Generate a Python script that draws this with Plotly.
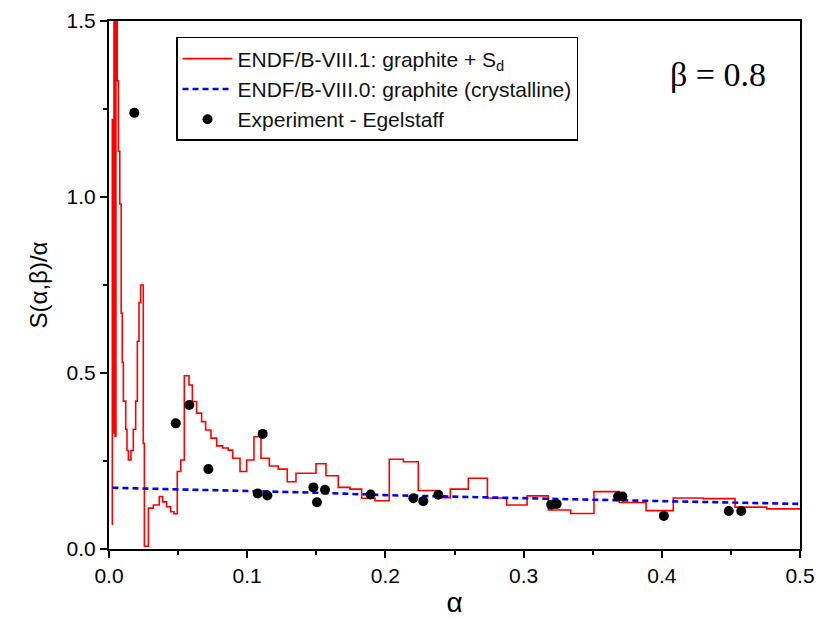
import plotly.graph_objects as go

# ENDF/B-VIII.1 graphite + S_d : histogram (step) values, left bin edges
alpha_sd = [0.0020, 0.0024, 0.0031, 0.0036, 0.0044, 0.0050, 0.0060, 0.0068, 0.0078,
            0.0088, 0.0096, 0.0104, 0.0121, 0.0130, 0.0140, 0.0159, 0.0176, 0.0193,
            0.0205, 0.0217, 0.0229, 0.0248, 0.0256, 0.0285, 0.0321, 0.0364, 0.0388,
            0.0417, 0.0446, 0.0470, 0.0494, 0.0519, 0.0545, 0.0579, 0.0603, 0.0634,
            0.0670, 0.0699, 0.0738, 0.0779, 0.0822, 0.0863, 0.0895, 0.0948, 0.0996,
            0.1049, 0.1100, 0.1160, 0.1225, 0.1290, 0.1353, 0.1498, 0.1570, 0.1659,
            0.1744, 0.1828, 0.1925, 0.2028, 0.2130, 0.2238, 0.2365, 0.2470, 0.2600,
            0.2738, 0.2877, 0.3025, 0.3179, 0.3341, 0.3509, 0.3693, 0.3886, 0.4083,
            0.4300, 0.4530, 0.4760, 0.5000]
s_sd = [0.070, 1.220, 0.330, 1.650, 0.320, 1.650, 1.330, 1.130, 0.980,
        0.670, 0.530, 0.420, 0.340, 0.280, 0.253, 0.280, 0.340, 0.420,
        0.590, 0.700, 0.750, 0.300, 0.008, 0.116, 0.125, 0.149, 0.134,
        0.120, 0.106, 0.100, 0.220, 0.253, 0.492, 0.466, 0.419, 0.386,
        0.362, 0.338, 0.315, 0.293, 0.287, 0.281, 0.258, 0.220, 0.253,
        0.319, 0.258, 0.236, 0.227, 0.191, 0.215, 0.242, 0.208, 0.175,
        0.170, 0.144, 0.137, 0.255, 0.248, 0.166, 0.146, 0.170, 0.201,
        0.145, 0.125, 0.151, 0.111, 0.101, 0.163, 0.132, 0.109, 0.145,
        0.143, 0.119, 0.114, 0.114]

# ENDF/B-VIII.0 crystalline graphite
alpha_cr = [0.0025, 0.05, 0.10, 0.15, 0.20, 0.25, 0.30, 0.35, 0.40, 0.45, 0.50]
s_cr = [0.174, 0.170, 0.166, 0.160, 0.153, 0.148, 0.144, 0.140, 0.136, 0.132, 0.128]

# Egelstaff measurements
alpha_exp = [0.0183, 0.0483, 0.0581, 0.0719, 0.1076, 0.1112, 0.1146, 0.1479, 0.1505,
             0.1563, 0.1893, 0.2202, 0.2274, 0.2383, 0.3200, 0.3239, 0.3684, 0.3715,
             0.4015, 0.4485, 0.4575]
s_exp = [1.239, 0.357, 0.409, 0.227, 0.158, 0.327, 0.152, 0.175, 0.133,
         0.168, 0.155, 0.144, 0.136, 0.154, 0.126, 0.128, 0.149, 0.149,
         0.094, 0.108, 0.108]

x_ticks = [0.0, 0.1, 0.2, 0.3, 0.4, 0.5]
y_ticks = [0.0, 0.5, 1.0, 1.5]
x_range = [0.0, 0.5]
y_range = [0.0, 1.5]

SANS = "Liberation Sans, Arial, sans-serif"

fig = go.Figure()
fig.add_trace(go.Scatter(
    x=alpha_sd, y=s_sd, mode="lines", line_shape="hv",
    line=dict(color="#ff0000", width=1.6),
    name="ENDF/B-VIII.1: graphite + S<sub>d</sub>"))
fig.add_trace(go.Scatter(
    x=alpha_cr, y=s_cr, mode="lines",
    line=dict(color="#0000ff", width=2.6, dash="6px,4px"),
    name="ENDF/B-VIII.0: graphite (crystalline)"))
fig.add_trace(go.Scatter(
    x=alpha_exp, y=s_exp, mode="markers",
    marker=dict(color="black", size=10),
    name="Experiment - Egelstaff"))

common = dict(showgrid=False, zeroline=False, linecolor="black", linewidth=2,
              tickcolor="black", tickwidth=1.5, automargin=False)

fig.update_layout(
    width=818, height=620,
    margin=dict(l=109, r=18, t=21, b=71, autoexpand=False),
    paper_bgcolor="white", plot_bgcolor="white",
    showlegend=True,
    legend=dict(x=0.097, y=0.9697, xanchor="left", yanchor="top",
                bgcolor="white", bordercolor="black", borderwidth=1.5,
                font=dict(family=SANS, size=21, color="#111"),
                itemwidth=50, tracegroupgap=0),
    xaxis=dict(range=x_range, tickvals=x_ticks, ticktext=[f"{v:.1f}" for v in x_ticks],
               ticks="outside", ticklen=7, mirror=True,
               minor=dict(dtick=0.05, ticks="outside", ticklen=4, tickcolor="black", tickwidth=1.5),
               tickfont=dict(family=SANS, size=21, color="black"),
               title=dict(text="α", font=dict(family=SANS, size=28, color="black"), standoff=6),
               **common),
    yaxis=dict(range=y_range, tickvals=y_ticks, ticktext=[f"{v:.1f}" for v in y_ticks],
               ticks="outside", ticklen=7, mirror=True,
               minor=dict(dtick=0.25, ticks="outside", ticklen=4, tickcolor="black", tickwidth=1.5),
               tickfont=dict(family=SANS, size=21, color="black"),
               title=dict(text="S(α,β)/α", font=dict(family=SANS, size=24, color="black"), standoff=12),
               **common),
    xaxis2=dict(range=x_range, tickvals=x_ticks, overlaying="x", side="top", anchor="y",
                showticklabels=False, ticks="inside", ticklen=6, showline=False, automargin=False,
                minor=dict(dtick=0.05, ticks="inside", ticklen=4, tickcolor="black", tickwidth=1.5),
                showgrid=False, zeroline=False, tickcolor="black", tickwidth=1.5),
    yaxis2=dict(range=y_range, tickvals=y_ticks, overlaying="y", side="right", anchor="x",
                showticklabels=False, ticks="inside", ticklen=6, showline=False, automargin=False,
                minor=dict(dtick=0.25, ticks="inside", ticklen=4, tickcolor="black", tickwidth=1.5),
                showgrid=False, zeroline=False, tickcolor="black", tickwidth=1.5),
    annotations=[dict(x=0.954, y=0.898, xref="paper", yref="paper", xanchor="right", yanchor="middle",
                      text="β = 0.8", showarrow=False,
                      font=dict(family="Liberation Serif, Times New Roman, serif", size=34, color="black"))],
)

fig.write_html("out.html")
